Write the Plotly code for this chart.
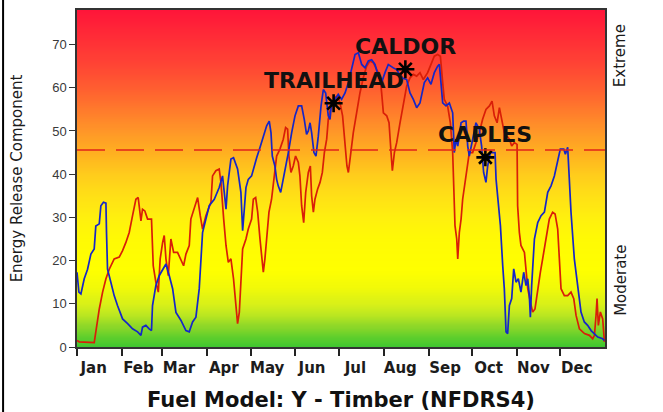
import plotly.graph_objects as go

# ---------------- data ----------------
months = ["Jan", "Feb", "Mar", "Apr", "May", "Jun", "Jul", "Aug", "Sep", "Oct", "Nov", "Dec"]
month_start_day = [0, 31, 59, 90, 120, 151, 181, 212, 243, 273, 304, 334]

y_ticks = [0, 10, 20, 30, 40, 50, 60, 70]

blue_day = [0, 1.3, 2.7, 5, 7.3, 9.6, 11.9, 13, 15.4, 16.5, 18.3, 20, 20.4, 21.1, 23.4, 25.7, 28, 31.5,
            35, 38.4, 41.9, 44.2, 45.3, 47.6, 49.9, 51.5, 52.2, 54.5, 56.8, 59.2, 61.5, 63.8, 66.1,
            68.4, 71.8, 75.3, 77.6, 79.9, 82.2, 84.5, 86.8, 89.1, 91.4, 94.9, 98.3, 100.6, 103, 104.1,
            106.4, 108.2, 111, 113.3, 114.5, 116.8, 118.4, 120.7, 121.9, 124.2, 126.5, 128.8, 131.1,
            132.9, 134.1, 135, 136.8, 138, 139.1, 140.8, 142.6, 144.2, 146.1, 148.4, 150.7, 153,
            155.3, 157.1, 158.7, 159.9, 161.1, 162.2, 163.8, 165.2, 166.8, 168.7, 170.3, 171.9,
            173.7, 174.9, 176, 178.3, 180.6, 182.9, 185.3, 187.6, 189.9, 192.2, 194.5, 196.8, 199.1,
            201.4, 203.7, 206, 208.3, 210.6, 212.9, 215.2, 218.7, 221, 224.4, 227.9, 230.2, 232.5,
            234.8, 237.1, 240.1, 242.4, 244.7, 247, 249.3, 250.5, 251.6, 252.8, 255.1, 257.4, 259.7,
            260.8, 262, 263.2, 265.5, 267.3, 268.9, 270.1, 271.2, 273.5, 275.8, 278.1, 279.7, 281.1,
            282.7, 283.9, 285.7, 287.4, 289, 289.7, 290.8, 292.7, 294.3, 295.4, 296.6, 297.7, 298.9,
            300.5, 301.9, 303.5, 305.1, 306.9, 308.8, 310.4, 311.6, 312.7, 313.4, 314.3, 316.2,
            318.5, 320.8, 323.1, 325.4, 327.7, 330, 332.3, 334.1, 336.5, 337.6, 339.2, 340.4, 341.5,
            343.8, 346.1, 348.4, 350.7, 353, 355.4, 357.7, 360, 363.4, 364.6]
blue_erc = [17.3, 12.7, 12.3, 15.8, 18, 21.5, 22.7, 28, 28.5, 32.7, 33.5, 33.3, 26.5, 18, 15, 11.9, 9.6, 6.5,
            5.4, 4.2, 3.5, 2.7, 4.6, 5, 4.2, 3.8, 9.6, 14.2, 16.5, 18, 19.2, 16.5, 13.5,
            8, 6.2, 3.8, 3.5, 5.8, 6.9, 13.5, 26.5, 29.6, 32.7, 34.2, 36.9, 39.6, 31.9, 37.3,
            43.5, 43.8, 41.2, 35.8, 26.9, 36.9, 38.8, 39.6, 41.2, 43.8, 46.2, 48.8, 51.2,
            52.3, 49.6, 44.2, 41.9, 38.8, 37.3, 35.8, 38.8, 41.2, 45, 49.6, 53.5, 55.8,
            55.8, 52.7, 49.2, 50, 51.9, 49.6, 45, 44.2, 48.8, 55.8, 59.6, 58.8,
            53.5, 52.7, 56.5, 57.3, 58.5, 57.3, 58.8, 61.2, 64.2, 67.7, 68.1, 65.4, 64.6,
            66.2, 66.5, 65.4, 62.7, 61.2, 63.5, 65.4, 64.6, 64.2, 62.3, 61.9, 58.8, 57.3,
            55.4, 56.5, 61.2, 62.3, 60.8, 63.5, 65, 65.4, 61.2, 56.5, 55.8, 56.5, 54.2,
            45, 48.1, 46.5, 51.9, 52.3, 52.3, 46.5, 44.2, 48.1, 51.9, 50.4, 46.5, 40.4,
            38.1, 41.9, 45, 45, 45, 38.8, 35, 28.1, 18.8, 13.5, 3.5, 3.1, 9.6,
            11.2, 18.1, 15, 15.8, 12.7, 17.3, 14.2, 15.8, 11.9, 6.9, 14.2, 25,
            28.8, 30.4, 31.2, 35.8, 37.3, 39.6, 42.7, 45.8, 45.8, 44.6, 46.2, 38.8, 31.2,
            20.4, 13.5, 8.1, 5.8, 5, 3.8, 3.1, 2.3, 1.9, 1.5]

red_day = [0, 1.5, 11.9, 13, 15.4, 17.7, 20, 22.3, 25.7, 29.2, 31.5, 33.8, 36.1, 38.4, 40.7, 42.3, 44.2,
           45.3, 46.9, 48.8, 51.5, 52.7, 54.5, 56.2, 57.5, 59.2, 60.3, 61.5, 63.1, 64.9, 66.8, 69.5,
           71.8, 73.7, 75.3, 77.6, 78.7, 81, 83.4, 85.2, 86.8, 89.1, 92.6, 93.7, 96, 98.3, 99.5,
           101.4, 103, 104.6, 106.4, 108.2, 109.9, 111, 112.2, 113.3, 114.5, 116.8, 118.4, 120.7,
           121.9, 123.5, 124.9, 126.5, 127.6, 128.8, 129.9, 131.1, 132.7, 134.5, 136.4, 138, 140.3,
           142.6, 144.2, 145.6, 146.5, 147.9, 149.5, 151.1, 153, 154.1, 155.3, 156.7, 158.1, 159.9,
           161.3, 162.2, 163.4, 164.5, 166.3, 168, 169.6, 171, 172.6, 173.7, 175.6, 177.9, 180.2,
           181.8, 183.6, 185.3, 186.6, 187.6, 189, 191, 193.3, 195.6, 197.9, 200.2, 202.5, 204.8,
           207.2, 209.5, 210.6, 211.8, 214.1, 215.7, 217.1, 218, 219.4, 221, 223.3, 225.6, 227.9,
           230.2, 232.5, 234.8, 237.1, 239.4, 242.4, 244.7, 247, 249.3, 251.2, 252.8, 253.9, 256.2,
           258.1, 259.7, 261.3, 262.5, 263.2, 264.3, 265.5, 266.6, 268.2, 269.6, 271.2, 273.5,
           275.8, 278.1, 280.4, 282.7, 285.1, 286.9, 288.5, 290.4, 292, 293.6, 295.4, 297.3, 298.9,
           300.5, 302.3, 304.2, 304.6, 305.8, 306.9, 309.3, 310.4, 311.6, 313.4, 315, 316.6, 318.5,
           320.3, 321.9, 324.2, 326.5, 328.8, 330.5, 332.3, 333.5, 334.6, 336.9, 339.2, 341.5,
           343.4, 345, 347.3, 350.8, 354.2, 356.5, 357.7, 358.8, 359.5, 360.4, 361.8, 363.4, 364.6]
red_erc = [1.5, 1.2, 1.0, 3.5, 8.8, 12.7, 15.8, 18, 20.4, 20.8, 22.3, 24.2, 26.5, 30.4, 34.2, 34.6, 29.2,
           31.9, 31.5, 29.6, 29.6, 18.8, 15, 12.7, 20.4, 24.2, 25.8, 20.4, 16.5, 25, 21.9, 21.9,
           20.4, 18.8, 21.5, 23.5, 29.6, 31.9, 34.6, 30.4, 27.3, 30.4, 33.5, 39.6, 40.8, 41.2, 38.1,
           29.6, 23.5, 19.6, 20.4, 15.8, 8.8, 5.4, 8, 14.2, 22.7, 25, 27.3, 29.6,
           34.2, 34.6, 31.2, 25, 20.4, 17.3, 20.4, 25, 31.2, 34.2, 40.4, 44.2, 45.8,
           48.1, 50.8, 50.4, 44.2, 40.4, 41.9, 44.2, 42.7, 39.6, 32.7, 28.8, 35.8, 40.4,
           41.9, 35, 31.2, 34.2, 36.5, 38.1, 40.4, 45, 48.1, 52.7, 55.8, 57.7, 58.1,
           56.5, 53.5, 46.5, 41.9, 40.4, 44.2, 49.6, 54.2, 58.8, 62.3, 65, 66.2, 65.8,
           64.2, 62.7, 58.8, 54.2, 53.5, 51.9, 45, 40.8, 45, 47.3, 51.9, 56.5, 60.4,
           62.3, 63.1, 62.7, 63.5, 61.9, 63.5, 65.4, 67.3, 67.7, 67.3, 61.2, 57.3, 55.8,
           51.9, 45, 28.1, 25, 20.4, 26.5, 29.6, 34.2, 38.1, 41.2, 45, 45,
           47.3, 49.6, 52.7, 55, 55.8, 56.9, 53.5, 51.9, 55.4, 52.7, 49.6, 48.8, 48.1,
           46.5, 47.3, 46.9, 32.7, 26.5, 23.5, 21.9, 17.3, 13.5, 10.4, 8.1, 8.8, 13.5,
           17.3, 20.4, 25, 29.6, 31.2, 30.8, 27.3, 20.4, 13.5, 11.9, 11.9, 12.7,
           11.2, 7.3, 4.2, 3.1, 2.7, 1.9, 2.7, 7.3, 11.2, 5, 8.1, 6.5, 1.2]

fire_names = ["TRAILHEAD", "CALDOR", "CAPLES"]
fire_day = [177.4, 227.0, 282.3]
fire_erc = [56.4, 64.3, 43.9]

threshold_erc = 45.6
zone_labels = ["Extreme", "Moderate"]
zone_erc = [67.5, 15.5]

# ---------------- style ----------------
Y_MAX = 78
BLUE = "#1526C8"
RED = "#D91E08"

grad_stops = [(0, "#3CC630"), (2.5, "#62CF2C"), (5, "#90D828"), (8, "#C2E91F"), (10, "#D8F018"),
              (14, "#F2FA08"), (18, "#FFFF00"), (25, "#FFFA04"), (30, "#FFF00E"), (35, "#FFE016"),
              (40, "#FFCC1C"), (45, "#FFB020"), (50, "#FF9628"), (55, "#FF7A2C"), (60, "#FF5E30"),
              (65, "#FF4634"), (70, "#FF3336"), (78, "#FF1539")]
colorscale = [[v / Y_MAX, c] for v, c in grad_stops]
grad_y = [i * 0.5 for i in range(-4, 2 * Y_MAX + 5)]
grad_x = [-40, 0, 365, 405]

fig = go.Figure()

fig.add_trace(go.Heatmap(
    x=grad_x, y=grad_y, z=[[yv] * len(grad_x) for yv in grad_y],
    colorscale=colorscale, zmin=0, zmax=Y_MAX, zsmooth="best",
    showscale=False, hoverinfo="skip"))

fig.add_trace(go.Scatter(x=red_day, y=red_erc, mode="lines",
                         line=dict(color=RED, width=1.7), name="red", showlegend=False))
fig.add_trace(go.Scatter(x=blue_day, y=blue_erc, mode="lines",
                         line=dict(color=BLUE, width=1.7), name="blue", showlegend=False))
fig.add_trace(go.Scatter(x=fire_day, y=fire_erc, mode="markers",
                         marker=dict(symbol="asterisk-open", size=15, color="black",
                                     line=dict(color="black", width=2.6)),
                         showlegend=False, hoverinfo="skip"))

annotations = []
for name, d, v in zip(fire_names, fire_day, fire_erc):
    annotations.append(dict(x=d, y=v, xref="x", yref="y", text=name, showarrow=False,
                            yshift=23, xshift=0,
                            font=dict(family="DejaVu Sans", size=22, color="#111111", weight="bold")))
for t, v in zip(zone_labels, zone_erc):
    annotations.append(dict(x=1.03, y=v, xref="paper", yref="y", text=t, showarrow=False,
                            textangle=-90, xanchor="center", yanchor="middle",
                            font=dict(family="DejaVu Sans", size=15, color="#1a1a1a")))

shapes = [
    dict(type="line", xref="paper", yref="y", x0=0, x1=1, y0=threshold_erc, y1=threshold_erc,
         line=dict(color="#E2231A", width=1.6, dash="28px,11px"), layer="above"),
    dict(type="line", xref="paper", yref="paper", x0=-0.140, x1=-0.140, y0=-0.2, y1=1.04,
         line=dict(color="black", width=2), layer="above"),
]

fig.update_layout(
    width=663, height=412,
    margin=dict(l=77, r=58, t=10, b=65, autoexpand=False),
    paper_bgcolor="white", plot_bgcolor="white",
    annotations=annotations, shapes=shapes,
    showlegend=False,
    xaxis=dict(
        automargin=False,
        range=[0, 365], showgrid=False, zeroline=False,
        tickmode="array", tickvals=[d + 11.5 for d in month_start_day], ticktext=months,
        ticks="", ticklabelstandoff=6,
        tickfont=dict(family="DejaVu Sans", size=15, color="#1c1c1c", weight="bold"),
        minor=dict(tickmode="array", tickvals=month_start_day, ticks="outside",
                   ticklen=7, tickwidth=1.5, tickcolor="#222", showgrid=False),
        showline=True, linecolor="#333", linewidth=1.5, mirror=True,
        title=dict(text="Fuel Model: Y - Timber (NFDRS4)", standoff=17,
                   font=dict(family="DejaVu Sans", size=21, color="#111", weight="bold")),
    ),
    yaxis=dict(
        automargin=False,
        range=[0, Y_MAX], showgrid=False, zeroline=False,
        tickmode="array", tickvals=y_ticks, ticks="outside", ticklen=6, tickwidth=1.2,
        tickcolor="#333",
        tickfont=dict(family="Liberation Sans", size=13, color="#3a3a3a"),
        showline=True, linecolor="#333", linewidth=1.5, mirror=True,
        title=dict(text="Energy Release Component", standoff=26,
                   font=dict(family="DejaVu Sans", size=15, color="#1c1c1c")),
    ),
)

fig.write_html("out.html", config={"displayModeBar": False},
               post_script="document.body.style.margin='0';")
